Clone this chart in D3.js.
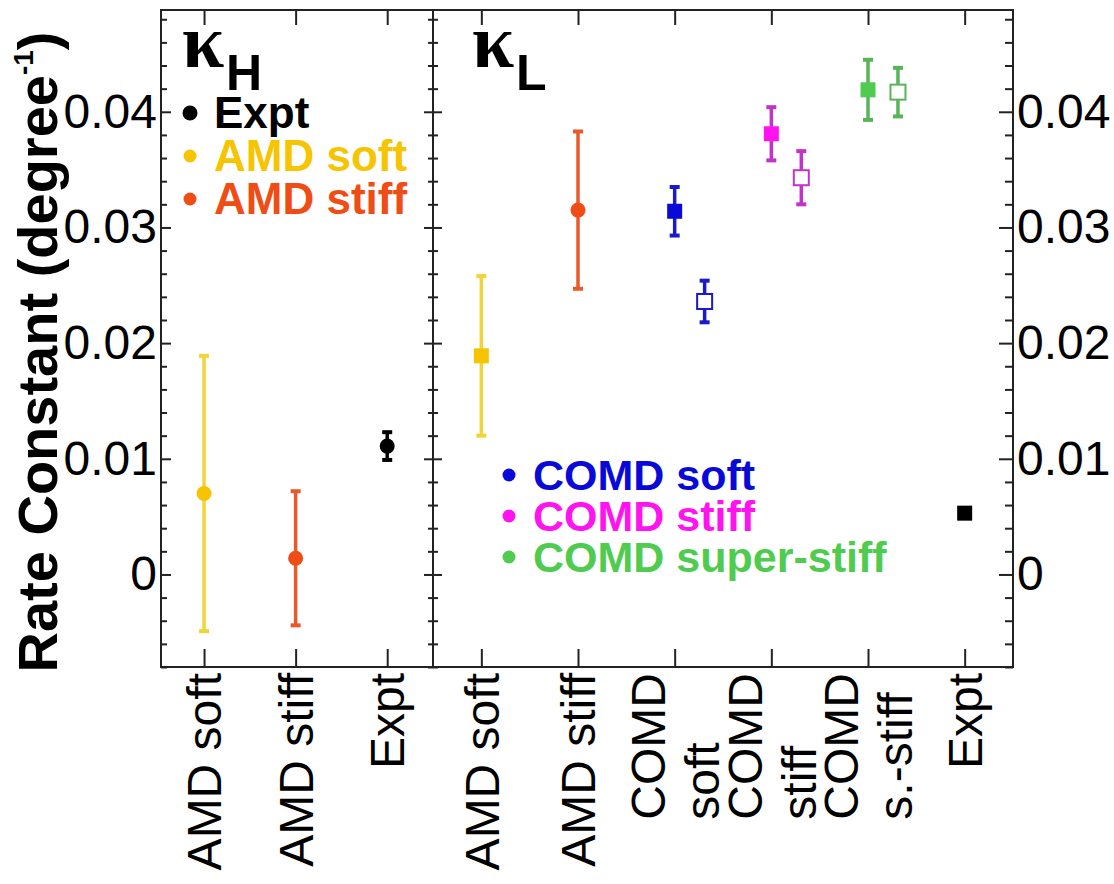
<!DOCTYPE html>
<html>
<head>
<meta charset="utf-8">
<script src="https://cdn.jsdelivr.net/npm/d3@7"></script>
<style>
  html, body { margin: 0; padding: 0; background: #fff; }
  svg { display: block; font-family: "Liberation Sans", Arial, Helvetica, sans-serif; }
</style>
</head>
<body>
<svg id="chart" width="1114" height="884"></svg>
<script>
// ---------------- DATA ----------------
const yMajorTicks = [0, 0.01, 0.02, 0.03, 0.04];
const yTickLabels = ["0", "0.01", "0.02", "0.03", "0.04"];

// kappa_H panel
const kappaHCategories = ["AMD soft", "AMD stiff", "Expt"];
const kappaHSeries = ["AMD soft", "AMD stiff", "Expt"];
const kappaHCategoryIndex = [1, 2, 3];
const kappaHValues = [0.0070, 0.0014, 0.0111];
const kappaHErrors = [0.0119, 0.0058, 0.0012];

// kappa_L panel
const kappaLCategories = ["AMD soft", "AMD stiff", "COMD\nsoft", "COMD\nstiff", "COMD\ns.-stiff", "Expt"];
const kappaLSeries = ["AMD soft", "AMD stiff", "COMD soft", "COMD soft", "COMD stiff", "COMD stiff", "COMD super-stiff", "COMD super-stiff", "Expt"];
const kappaLCategoryIndex = [1, 2, 3, 3, 4, 4, 5, 5, 6];
const kappaLOpen = [false, false, false, true, false, true, false, true, false];
const kappaLShape = ["square", "circle", "square", "square", "square", "square", "square", "square", "square"];
const kappaLValues = [0.0189, 0.0315, 0.0314, 0.0236, 0.0381, 0.0343, 0.0419, 0.0417, 0.0053];
const kappaLErrors = [0.0069, 0.0068, 0.0021, 0.0018, 0.0023, 0.0023, 0.0026, 0.0021, 0];

// legends
const legendH = ["Expt", "AMD soft", "AMD stiff"];
const legendL = ["COMD soft", "COMD stiff", "COMD super-stiff"];

// colours per series
const seriesColor = {
  "Expt": "#000000",
  "AMD soft": "#f6c400",
  "AMD stiff": "#f04c16",
  "COMD soft": "#0a0ad8",
  "COMD stiff": "#ff14f0",
  "COMD super-stiff": "#4fcc4f"
};
const barColor = {
  "Expt": "#000000",
  "AMD soft": "#f1d43a",
  "AMD stiff": "#e85a2a",
  "COMD soft": "#1a1ac8",
  "COMD stiff": "#c234c8",
  "COMD super-stiff": "#58b458"
};

// ---------------- LAYOUT ----------------
const svg = d3.select("#chart");
const yTop = 10, yBottom = 667;
const leftX0 = 161, midX = 433, rightX1 = 1013;
const openOffset = 0.31;

const y = d3.scaleLinear().domain([-0.008, 0.0488]).range([yBottom, yTop]);
const xH = d3.scaleLinear().domain([0.53, 3.5]).range([leftX0, midX]);
const xL = d3.scaleLinear().domain([0.5, 6.5]).range([midX, rightX1]);

const minorTicks = d3.range(-0.008, 0.0481, 0.002)
  .map(v => Math.round(v * 1000) / 1000)
  .filter(v => !yMajorTicks.some(m => Math.abs(m - v) < 1e-9));

const fmt = d => yTickLabels[yMajorTicks.findIndex(m => Math.abs(m - d) < 1e-9)];

function styleAxis(g) {
  g.select(".domain").remove();
  g.selectAll(".tick line").attr("stroke", "#222").attr("stroke-width", 2);
}

// left outer axis (labels)
svg.append("g").attr("transform", `translate(${leftX0},0)`)
  .call(d3.axisLeft(y).tickValues(yMajorTicks).tickSize(-10).tickPadding(4).tickFormat(fmt))
  .call(styleAxis)
  .call(g => g.selectAll("text").attr("font-size", 48).attr("fill", "#000")
    .attr("font-family", "Liberation Sans, Arial, sans-serif"));
svg.append("g").attr("transform", `translate(${leftX0},0)`)
  .call(d3.axisLeft(y).tickValues(minorTicks).tickSize(-6).tickFormat(""))
  .call(styleAxis);

// separator: ticks on both sides
svg.append("g").attr("transform", `translate(${midX},0)`)
  .call(d3.axisRight(y).tickValues(yMajorTicks).tickSize(-9).tickFormat(""))
  .call(styleAxis);
svg.append("g").attr("transform", `translate(${midX},0)`)
  .call(d3.axisRight(y).tickValues(minorTicks).tickSize(-5).tickFormat(""))
  .call(styleAxis);
svg.append("g").attr("transform", `translate(${midX},0)`)
  .call(d3.axisLeft(y).tickValues(yMajorTicks).tickSize(-9).tickFormat(""))
  .call(styleAxis);
svg.append("g").attr("transform", `translate(${midX},0)`)
  .call(d3.axisLeft(y).tickValues(minorTicks).tickSize(-5).tickFormat(""))
  .call(styleAxis);

// right outer axis (labels)
svg.append("g").attr("transform", `translate(${rightX1},0)`)
  .call(d3.axisRight(y).tickValues(yMajorTicks).tickSize(-14).tickPadding(4).tickFormat(fmt))
  .call(styleAxis)
  .call(g => g.selectAll("text").attr("font-size", 48).attr("fill", "#000")
    .attr("font-family", "Liberation Sans, Arial, sans-serif"));
svg.append("g").attr("transform", `translate(${rightX1},0)`)
  .call(d3.axisRight(y).tickValues(minorTicks).tickSize(-8).tickFormat(""))
  .call(styleAxis);

// x ticks bottom & top
[[xH, kappaHCategories], [xL, kappaLCategories]].forEach(([xs, cats]) => {
  const vals = cats.map((c, i) => i + 1);
  svg.append("g").attr("transform", `translate(0,${yBottom})`)
    .call(d3.axisBottom(xs).tickValues(vals).tickSize(-18).tickFormat(""))
    .call(styleAxis);
  svg.append("g").attr("transform", `translate(0,${yTop})`)
    .call(d3.axisTop(xs).tickValues(vals).tickSize(-15).tickFormat(""))
    .call(styleAxis);
});

// frames
svg.append("rect").attr("x", leftX0).attr("y", yTop).attr("width", midX - leftX0).attr("height", yBottom - yTop)
  .attr("fill", "none").attr("stroke", "#222").attr("stroke-width", 2);
svg.append("rect").attr("x", midX).attr("y", yTop).attr("width", rightX1 - midX).attr("height", yBottom - yTop)
  .attr("fill", "none").attr("stroke", "#222").attr("stroke-width", 2);

// x category labels (rotated)
const labelFont = 48;
function drawXLabels(xs, cats) {
  cats.forEach((c, i) => {
    const lines = c.split("\n");
    const cx = xs(i + 1);
    const lineGap = 54;
    const n = lines.length;
    const tmp = svg.append("text").attr("font-size", labelFont).text(lines[0]);
    const w0 = tmp.node().getComputedTextLength();
    tmp.remove();
    const startY = 673 + w0;
    lines.forEach((ln, j) => {
      const centerX = cx + (j - (n - 1) / 2) * lineGap;
      const bx = centerX + 0.36 * labelFont;
      svg.append("text")
        .attr("transform", `translate(${bx},${n === 1 ? 673 : startY}) rotate(-90)`)
        .attr("text-anchor", n === 1 ? "end" : "start")
        .attr("font-size", labelFont)
        .attr("fill", "#000")
        .text(ln);
    });
  });
}
drawXLabels(xH, kappaHCategories);
drawXLabels(xL, kappaLCategories);

// y-axis title
const title = svg.append("text")
  .attr("transform", "translate(57,352) rotate(-90)")
  .attr("text-anchor", "middle")
  .attr("font-size", 56)
  .attr("font-weight", "bold")
  .attr("fill", "#000");
title.append("tspan").text("Rate Constant (degree");
title.append("tspan").attr("font-size", 28).attr("dy", -24).text("-1");
title.append("tspan").attr("font-size", 56).attr("dy", 24).text(")");

// panel labels
function kappa(x, sub) {
  svg.append("text").attr("x", x).attr("y", 67)
    .attr("font-family", "Liberation Serif, Times New Roman, serif")
    .attr("font-weight", "bold")
    .attr("font-size", 76).attr("fill", "#000").text("κ");
  svg.append("text").attr("x", x + 44).attr("y", 90)
    .attr("font-size", 50).attr("font-weight", "bold").attr("fill", "#000").text(sub);
}
kappa(182, "H");
kappa(472, "L");

// legends
function legend(names, x, y0, gap, fs) {
  names.forEach((nm, i) => {
    const by = y0 + i * gap;
    svg.append("circle").attr("cx", x).attr("cy", by - 15).attr("r", nm === "Expt" ? 7.5 : 6.5)
      .attr("fill", seriesColor[nm]);
    svg.append("text").attr("x", x + 24).attr("y", by)
      .attr("font-size", fs).attr("font-weight", "bold")
      .attr("fill", seriesColor[nm]).text(nm);
  });
}
legend(legendH, 190, 128, 43, 44);
legend(legendL, 509, 490, 41, 43);

// error bars + markers
function drawPoint(px, v, e, series, shape, open) {
  const g = svg.append("g");
  if (e > 0) {
    const bc = barColor[series];
    g.append("line").attr("x1", px).attr("x2", px).attr("y1", y(v - e)).attr("y2", y(v + e))
      .attr("stroke", bc).attr("stroke-width", 3.5);
    [v - e, v + e].forEach(ev => {
      g.append("line").attr("x1", px - 5).attr("x2", px + 5).attr("y1", y(ev)).attr("y2", y(ev))
        .attr("stroke", bc).attr("stroke-width", 4);
    });
  }
  const col = seriesColor[series];
  if (shape === "circle") {
    g.append("circle").attr("cx", px).attr("cy", y(v)).attr("r", 7.5).attr("fill", col);
  } else if (open) {
    g.append("rect").attr("x", px - 7.5).attr("y", y(v) - 7.5).attr("width", 15).attr("height", 15)
      .attr("fill", "#fff").attr("stroke", barColor[series]).attr("stroke-width", 2);
  } else {
    g.append("rect").attr("x", px - 7.5).attr("y", y(v) - 7.5).attr("width", 15).attr("height", 15)
      .attr("fill", col);
  }
}

kappaHValues.forEach((v, i) => {
  drawPoint(xH(kappaHCategoryIndex[i]), v, kappaHErrors[i], kappaHSeries[i], "circle", false);
});
kappaLValues.forEach((v, i) => {
  const px = xL(kappaLCategoryIndex[i] + (kappaLOpen[i] ? openOffset : 0));
  drawPoint(px, v, kappaLErrors[i], kappaLSeries[i], kappaLShape[i], kappaLOpen[i]);
});
</script>
</body>
</html>
